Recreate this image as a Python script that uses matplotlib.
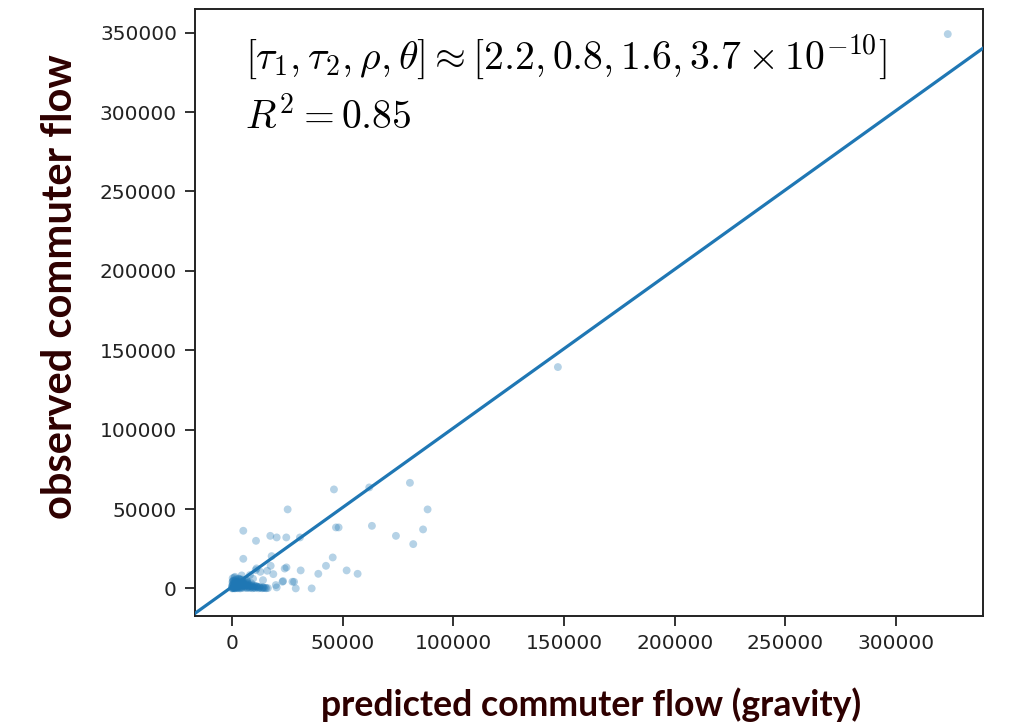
import matplotlib
matplotlib.use("Agg")
import matplotlib.pyplot as plt
import numpy as np

# predicted (gravity) vs observed commuter flows
predicted = [
    323300, 147200,
    46050, 62000, 80370, 88350, 25140, 5100, 10840, 17300, 20180, 24520,
    30700, 46960, 48160, 63200, 74050, 86300, 81860, 5100, 17900, 45500,
    42450, 51780, 56740, 38980, 31020, 24600, 23800, 17470, 12800, 18660,
    23070, 28040, 28800, 35990, 20180, 10700, 4380, 15900, 11100, 22800,
    27300, 19800, 8100, 1350, 14000, 9500, 6800, 3200,
    # dense cluster near the origin
    0, 200, 500, 800, 1000, 1300, 1600, 2000, 2300, 2700,
    3000, 3400, 3800, 4200, 4600, 5000, 5500, 6000, 6500, 7000,
    7500, 8000, 8600, 9200, 9800, 10500, 11200, 12000, 12800, 13600,
    14500, 15500, 300, 700, 1200, 1800, 2500, 3300, 4000, 4800,
    5800, 6800, 7800, 9000, 10200, 11500, 500, 1500, 2800, 3600,
    4400, 5200, 6200, 900, 2100, 3100, 100, 600, 1400, 2200,
    0, 400, 900, 1700, 2600, 3500, 4300, 5300, 6300, 7300,
    8300, 9400, 10800, 12300, 13900, 15100, 16200, 1100, 1900, 2900,
    3900, 4900, 5900, 6900, 7900, 8900, 9900, 11000, 12500, 14200,
    200, 800, 1500, 2400, 3300, 4100, 5100, 6100, 7100, 300,
    1000, 2000, 3000, 4500, 6600, 8700, 600, 1300, 2600, 3700,
]
observed = [
    349100, 139400,
    62340, 63600, 66500, 49750, 49750, 36300, 29970, 33100, 32100, 32100,
    32100, 38400, 38400, 39400, 33100, 37150, 27900, 18640, 20340, 19500,
    14230, 11330, 9190, 9190, 11330, 13220, 12500, 14230, 10450, 9000,
    4600, 4160, 0, 0, 630, 11520, 8190, 11100, 12600, 4200,
    4200, 2100, 8400, 7300, 5200, 6100, 4800, 6000,
    # dense cluster near the origin
    0, 300, 100, 600, 200, 900, 400, 1200, 300, 700,
    1500, 500, 1000, 200, 800, 1800, 300, 1100, 500, 200,
    900, 300, 600, 100, 400, 200, 700, 100, 300, 100,
    200, 100, 2500, 3200, 2000, 2800, 3600, 2400, 3000, 4000,
    2600, 3400, 1900, 1500, 1200, 900, 4500, 5200, 4200, 5600,
    3800, 3100, 4600, 1600, 1400, 2100, 1000, 5000, 3800, 600,
    1500, 1900, 1300, 2200, 1700, 1100, 2300, 1400, 1800, 1200,
    1600, 900, 1300, 800, 600, 400, 200, 3300, 2900, 3500,
    2700, 2500, 2100, 2400, 1900, 2200, 1700, 1500, 1100, 600,
    4100, 4700, 3900, 4300, 3700, 5400, 3900, 3100, 3600, 6400,
    6800, 5800, 6100, 5600, 4900, 3300, 200, 0, 100, 0,
]

# fitted line (observed ~ predicted)
fit_slope = 1.0
fit_intercept = 1000.0

r2_label = r"$R^2 = 0.85$"
param_label = r"$[\tau_1, \tau_2, \rho, \theta] \approx [2.2, 0.8, 1.6, 3.7 \times 10^{-10}]$"

xlim = (-16700, 339200)
ylim = (-17400, 364700)

plt.rcParams["font.family"] = ["DejaVu Sans"]
plt.rcParams["mathtext.fontset"] = "cm"

fig = plt.figure(figsize=(10.2, 7.28), dpi=100)
ax = fig.add_axes([0.1912, 0.1538, 0.7725, 0.8334])

ax.scatter(predicted, observed, s=32, color="#1f77b4", alpha=0.33,
           edgecolors="none", zorder=2)
xs = np.array(xlim)
ax.plot(xs, fit_slope * xs + fit_intercept, color="#1f77b4", lw=2.3, zorder=3)

ax.set_xlim(*xlim)
ax.set_ylim(*ylim)
ax.set_xticks(np.arange(0, 300001, 50000))
ax.set_yticks(np.arange(0, 350001, 50000))
ax.tick_params(labelsize=14.5, length=7, width=1.3, colors="#222222",
               labelcolor="#222222", pad=6)
for sp in ax.spines.values():
    sp.set_linewidth(1.4)
    sp.set_color("#222222")

ax.text(0.063, 0.922, param_label, transform=ax.transAxes, fontsize=28.6,
        va="center", ha="left", color="black")
ax.text(0.063, 0.822, r2_label, transform=ax.transAxes, fontsize=28.6,
        va="center", ha="left", color="black")

label_color = "#2e0000"
fig.text(0.580, 0.032, "predicted commuter flow (gravity)", fontsize=25.7,
         fontweight="bold", family="Lato", color=label_color,
         ha="center", va="center")
fig.text(0.059, 0.606, "observed commuter flow", fontsize=30,
         fontweight="bold", family="Lato", color=label_color,
         ha="center", va="center", rotation=90)

fig.savefig("out.png", dpi=100)
